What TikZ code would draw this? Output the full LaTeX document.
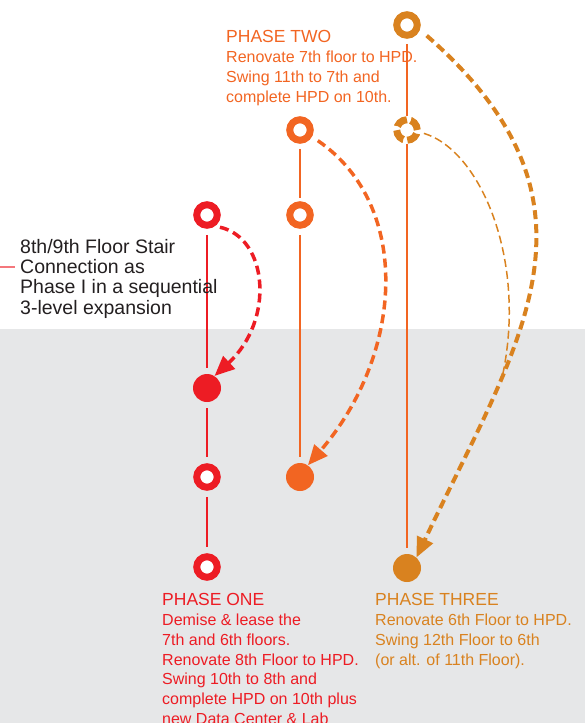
\documentclass[tikz,border=0pt]{standalone}
\usepackage{fontspec}
\setmainfont{Liberation Sans}
\usepackage{xcolor}
\usetikzlibrary{positioning, arrows.meta}

\definecolor{phaseone}{HTML}{ED1C24}
\definecolor{phasetwo}{HTML}{F26522}
\definecolor{phasethree}{HTML}{D9821F}
\definecolor{bggray}{HTML}{E6E7E8}
\definecolor{ink}{HTML}{231F20}

\begin{document}
\begin{tikzpicture}[
    x=1pt, y=-1pt,
    ring/.style={circle, draw=#1, fill=white, line width=7pt, minimum size=20.5pt, inner sep=0pt},
    dot/.style={circle, fill=#1, minimum size=28pt, inner sep=0pt},
    link/.style={draw=#1, line width=1.3pt, shorten <=6pt, shorten >=6pt},
    move/.style={draw=#1, line width=3.5pt, dash pattern=on 9pt off 5pt, -{Triangle[length=20pt, width=17pt]}},
    title/.style={font=\fontsize{17.5}{21}\selectfont, text=#1, inner sep=0pt, anchor=base west},
    body/.style={font=\fontsize{16}{19.7}\selectfont, text=#1, inner sep=0pt, align=left},
    note/.style={font=\fontsize{19.5}{20.3}\selectfont, text=ink, inner sep=0pt, align=left},
]
\useasboundingbox (0,0) rectangle (585,723);
\clip (0,0) rectangle (585,723);
\fill[bggray] (0,329) rectangle (585,723);

% Phase one column
\node[ring=phaseone] (r1) at (207,215) {};
\node[dot=phaseone] (r2) at (207,388) {};
\node[ring=phaseone] (r3) at (207,477) {};
\node[ring=phaseone] (r4) at (207,567) {};

% Phase two column
\node[ring=phasetwo] (o1) at (300,130) {};
\node[ring=phasetwo] (o2) at (300,215) {};
\node[dot=phasetwo] (o3) at (300,477) {};

% Phase three column
\node[ring=phasethree] (d1) at (407,25) {};
\node[ring=phasethree, dash pattern=on 12pt off 4.1pt] (d2) at (407,130) {};
\node[dot=phasethree] (d3) at (407,568) {};

% Links
\draw[link=phaseone] (r1) -- (r2);
\draw[link=phaseone] (r2) -- (r3);
\draw[link=phaseone] (r3) -- (r4);
\draw[link=phasetwo, shorten <=5pt, shorten >=3pt] (o1) -- (o2);
\draw[link=phasetwo] (o2) -- (o3);
\draw[link=phasetwo, shorten <=5pt, shorten >=0pt] (d1) -- (d2);
\draw[link=phasetwo, shorten <=0pt] (d2) -- (d3);

% Moves
\draw[move=phaseone, shorten <=5pt] (r1.-54) .. controls (268,238) and (275,320) .. (r2.58);
\draw[move=phasetwo, shorten <=7pt] (o1.-29) .. controls (413,206) and (403,355) .. (o3.56);
\draw[move=phasethree, line width=4pt, shorten <=9pt] (d1.-20) .. controls (619,204) and (519,341) .. (d3.48);
\coordinate (join) at (502,378);
\draw[phasethree, line width=1.5pt, dash pattern=on 8pt off 4pt, shorten <=3.5pt] (d2.-10) .. controls (480,150) and (528,260) .. (join);

% Phase texts
\node[title=phasetwo] (p2title) at (226,42) {PHASE TWO};
\node[body=phasetwo, below=8.5pt of p2title.south west, anchor=north west] (p2text) {Renovate 7th floor to HPD.\\Swing 11th to 7th and\\complete HPD on 10th.};

\node[title=phaseone] (p1title) at (162,605) {PHASE ONE};
\node[body=phaseone, below=8.5pt of p1title.south west, anchor=north west] (p1text) {Demise \& lease the\\7th and 6th floors.\\Renovate 8th Floor to HPD.\\Swing 10th to 8th and\\complete HPD on 10th plus\\new Data Center \& Lab};

\node[title=phasethree] (p3title) at (375,605) {PHASE THREE};
\node[body=phasethree, below=8.5pt of p3title.south west, anchor=north west] (p3text) {Renovate 6th Floor to HPD.\\Swing 12th Floor to 6th\\(or alt. of 11th Floor).};

% Stair note
\node[note, anchor=north west] (stair) at (20,239) {8th/9th Floor Stair\\Connection as\\Phase I in a sequential\\3-level expansion};
\coordinate (tick) at (0,267);
\draw[phaseone!60, line width=1.3pt] (tick) -- ([xshift=-5pt]stair.west |- tick);

\end{tikzpicture}
\end{document}
